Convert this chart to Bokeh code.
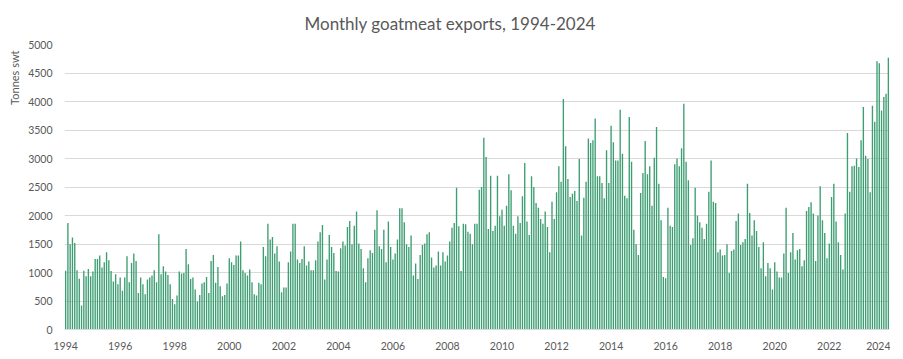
from bokeh.plotting import figure
from bokeh.models import Range1d, FixedTicker, Title, ColumnDataSource
from bokeh.embed import file_html
from bokeh.resources import INLINE

start_year = 1994

# Monthly goatmeat exports (tonnes swt), Jan 1994 - Mar 2024
exports = [
    1030, 1870, 1495, 1612, 1519, 1040, 890, 420, 1030, 935, 1063, 935,        # 1994
    1016, 1238, 1238, 1297, 1086, 1180, 1355, 1215, 1028, 841, 970, 794,       # 1995
    911, 678, 911, 1285, 830, 1168, 1332, 1203, 640, 911, 794, 620,            # 1996
    876, 911, 946, 1040, 830, 1670, 970, 1110, 1016, 958, 794, 537,            # 1997
    444, 596, 1016, 981, 993, 1414, 1145, 888, 911, 700, 490, 607,             # 1998
    806, 830, 923, 642, 1203, 1308, 818, 1098, 760, 584, 607, 806,             # 1999
    1250, 1180, 1133, 1297, 1297, 1542, 1040, 993, 946, 1051, 830, 620,        # 2000
    596, 818, 794, 1449, 1285, 1857, 1577, 1624, 1332, 1460, 1192, 654,        # 2001
    736, 736, 1180, 1367, 1857, 1857, 1227, 1168, 1238, 1460, 1121, 1192,      # 2002
    1040, 1040, 1215, 1542, 1706, 1834, 876, 1227, 1659, 1449, 1343, 1028,     # 2003
    1016, 1425, 1542, 1472, 1799, 1904, 1495, 1822, 2068, 1507, 1414, 1075,    # 2004
    830, 1250, 1390, 1343, 1752, 2091, 1460, 1414, 1752, 1180, 1893, 1449,     # 2005
    1227, 1332, 1577, 2126, 2126, 1881, 1495, 1449, 1647, 946, 1157, 888,      # 2006
    1308, 1484, 1507, 1670, 1706, 1262, 1086, 1121, 1367, 1121, 1355, 1192,    # 2007
    1297, 1542, 1787, 1869, 2488, 1811, 1028, 1857, 1846, 1717, 1682, 1495,    # 2008
    1857, 1857, 2453, 2500, 3364, 3025, 1764, 2699, 1729, 1822, 2699, 1986,    # 2009
    2103, 1822, 2173, 2722, 2442, 1822, 1682, 1986, 1869, 2336, 2921, 1893,    # 2010
    1659, 2687, 2500, 2220, 2138, 1939, 1857, 2068, 1799, 1355, 2243, 1939,    # 2011
    2407, 2862, 2593, 4042, 3213, 2640, 2325, 2383, 2430, 2255, 2991, 1647,    # 2012
    2313, 2593, 3353, 3271, 3318, 3703, 2687, 2687, 2570, 2301, 3143, 2570,    # 2013
    3575, 3283, 2967, 2967, 3855, 3085, 2348, 2301, 3727, 2944, 1752, 1495,    # 2014
    1308, 2395, 2745, 3306, 2722, 2862, 2173, 3014, 3551, 2558, 1916, 923,     # 2015
    900, 2138, 1822, 1799, 2897, 3002, 2862, 3178, 3960, 2944, 2617, 1484,     # 2016
    1600, 2488, 1998, 1881, 1787, 1589, 1857, 2418, 2967, 2243, 2220, 1355,    # 2017
    1402, 1297, 1308, 1495, 993, 1378, 1402, 1904, 2033, 1484, 1530, 1589,     # 2018
    2558, 2044, 1647, 1916, 1729, 1449, 1075, 1530, 935, 1168, 1075, 701,      # 2019
    1180, 1016, 911, 911, 1332, 2138, 993, 1355, 1694, 1227, 1390, 1414,       # 2020
    1110, 1215, 2080, 2150, 2231, 2033, 1203, 1998, 2512, 1916, 1694, 1250,    # 2021
    1507, 2325, 2558, 1893, 1530, 1308, 1051, 2033, 3446, 2418, 2862, 2874,    # 2022
    3002, 2850, 3318, 3902, 3049, 2991, 2407, 3925, 3645, 4708, 4673, 3843,    # 2023
    4077, 4136, 4766,                                                          # 2024
]

tick_years = list(range(1994, 2025, 2))
tick_labels = [str(y) for y in tick_years]
y_ticks = list(range(0, 5001, 500))

month_index = list(range(len(exports)))
tick_pos = [(y - start_year) * 12 for y in tick_years]

FONT = "Lato"
GREY = "#595959"

src = ColumnDataSource(data=dict(x=month_index, v=exports))

p = figure(frame_width=825, frame_height=285,
           output_backend="svg", toolbar_location=None,
           x_range=Range1d(-0.5, len(exports) - 0.5),
           y_range=Range1d(0, 5000),
           min_border_left=61, min_border_right=1,
           min_border_top=42, min_border_bottom=16)

p.title.text = "Monthly goatmeat exports, 1994-2024"
p.title.align = "left"
p.title.offset = 240
p.title.standoff = 21
p.title.text_font = FONT
p.title.text_font_size = "17px"
p.title.text_font_style = "normal"
p.title.text_color = GREY

p.add_layout(Title(text="Tonnes swt", align="right", offset=6, text_font=FONT,
                   text_font_size="11px", text_font_style="normal",
                   text_color=GREY), "left")

p.vbar(x="x", top="v", width=0.6, source=src,
       fill_color="#3E9E73", line_color=None)

p.outline_line_color = None
p.xgrid.visible = False
p.ygrid.ticker = FixedTicker(ticks=y_ticks)
p.ygrid.grid_line_color = "#d9d9d9"
p.ygrid.grid_line_width = 1

p.yaxis.ticker = FixedTicker(ticks=y_ticks)
p.yaxis.axis_line_color = None
p.yaxis.major_tick_line_color = None
p.yaxis.minor_tick_line_color = None
p.yaxis.major_label_standoff = 6
p.yaxis.major_label_text_font = FONT
p.yaxis.major_label_text_font_size = "10.5px"
p.yaxis.major_label_text_color = GREY

p.xaxis.ticker = FixedTicker(ticks=tick_pos)
p.xaxis.major_label_overrides = {pos: lab for pos, lab in zip(tick_pos, tick_labels)}
p.xaxis.axis_line_color = "#d9d9d9"
p.xaxis.major_tick_line_color = None
p.xaxis.minor_tick_line_color = None
p.xaxis.major_label_standoff = 6
p.xaxis.major_label_text_font = FONT
p.xaxis.major_label_text_font_size = "10.5px"
p.xaxis.major_label_text_color = GREY

open("out.html", "w").write(file_html(p, INLINE))
